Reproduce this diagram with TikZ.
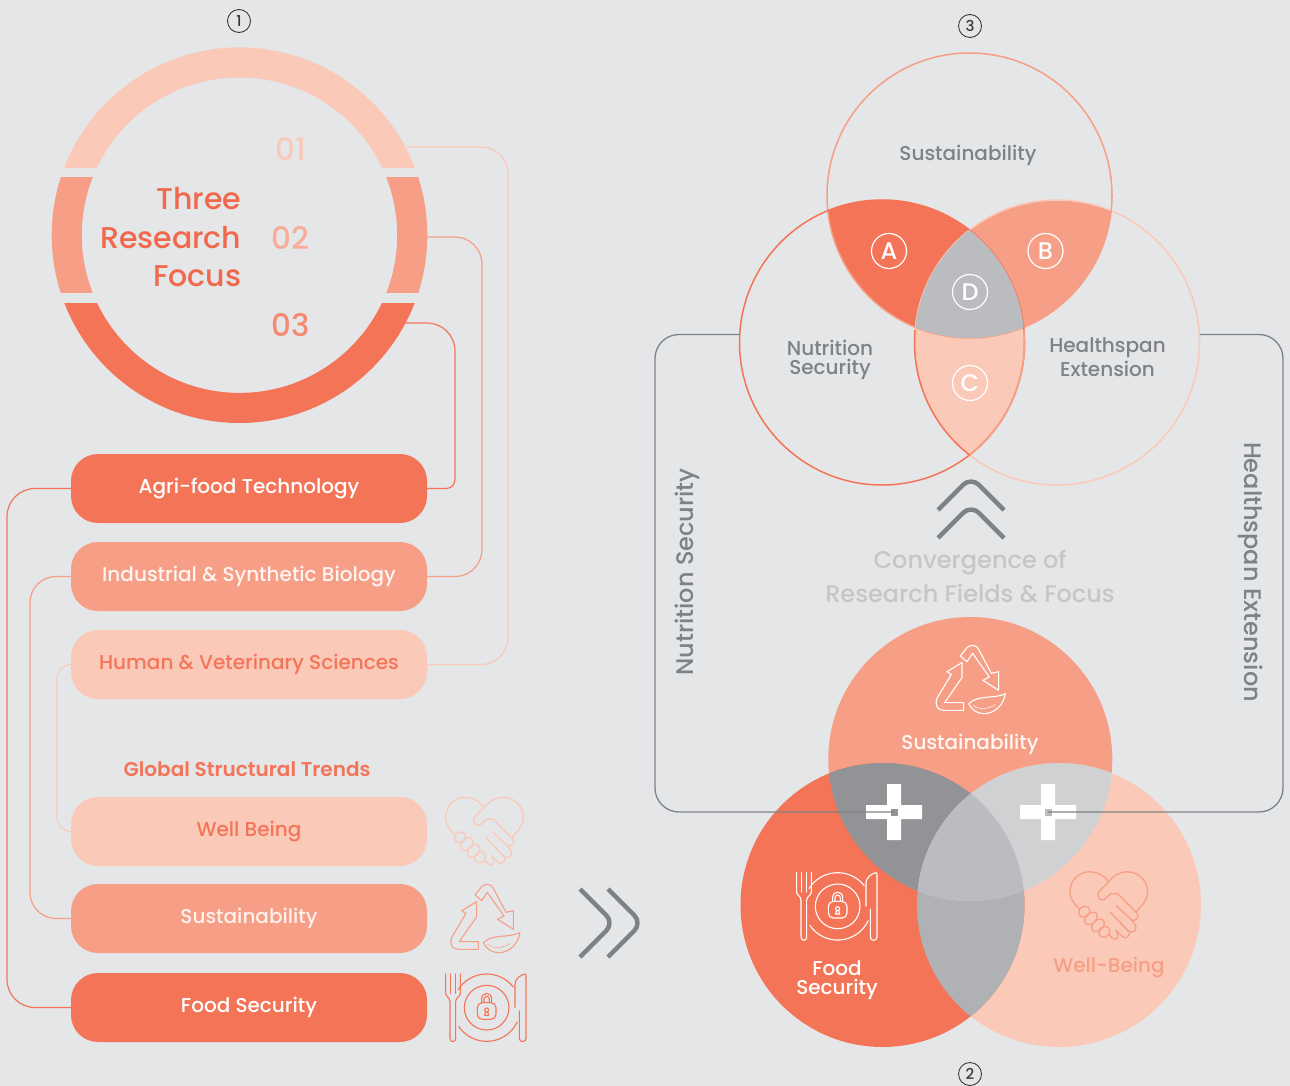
\documentclass[tikz,border=0pt]{standalone}
\usepackage{fontspec}
\setmainfont{Poppins}[UprightFont=* Medium,BoldFont=* SemiBold]
\usetikzlibrary{calc}
\definecolor{bgc}{HTML}{E5E6E8}
\definecolor{cora}{HTML}{F47458}
\definecolor{cormid}{HTML}{F79F86}
\definecolor{corlt}{HTML}{FBC9B8}
\definecolor{txtred}{HTML}{F2684C}
\definecolor{gry}{HTML}{7F8285}
\definecolor{gryd}{HTML}{929396}
\definecolor{grym}{HTML}{B0B1B4}
\definecolor{gryt}{HTML}{BBBCC0}
\definecolor{gryl}{HTML}{D0D1D3}
\definecolor{gryfade}{HTML}{C4C6C8}
\definecolor{num}{HTML}{3A3A3C}
\newcommand{\fs}[1]{\fontsize{#1}{#1}\selectfont}
\newcommand{\iconheart}[3]{%
\begin{scope}[shift={(#1,#2)},scale=1/3,draw=#3,line width=1.3pt,line cap=round,line join=round]
\draw (75,163) .. controls (55,145) and (47,130) .. (47,113) .. controls (47,75) and (75,52) .. (108,52) .. controls (130,52) and (150,65) .. (163,82);
\draw (133,113) -- (163,82) .. controls (176,65) and (196,52) .. (218,52) .. controls (252,52) and (280,78) .. (280,113) .. controls (280,135) and (265,152) .. (247,170);
\draw (133,113) .. controls (125,124) and (137,142) .. (150,135) -- (170,118) -- (190,118) -- (248,176) .. controls (258,190) and (240,205) .. (230,195) -- (187,155);
\draw (232,197) -- (243,212) .. controls (252,225) and (235,240) .. (222,230) -- (167,172);
\draw (198,207) -- (225,232) .. controls (228,245) and (215,255) .. (205,247) -- (185,228);
\draw (185,228) .. controls (198,245) and (188,262) .. (175,252) -- (163,240);
\draw[rotate around={45:(90,172)}] (90,172) ellipse[x radius=18pt,y radius=15pt];
\draw[rotate around={45:(110,192)}] (110,192) ellipse[x radius=22pt,y radius=15pt];
\draw[rotate around={45:(131,213)}] (131,213) ellipse[x radius=22pt,y radius=15pt];
\draw[rotate around={45:(150,232)}] (150,232) ellipse[x radius=18pt,y radius=15pt];
\end{scope}}
\newcommand{\iconrecycle}[3]{%
\begin{scope}[shift={(#1,#2)},scale=1/3,draw=#3,line width=1.1pt,line join=round]
\draw (135,345) -- (155,320) .. controls (165,310) and (182,310) .. (190,325) -- (228,397) -- (250,392) -- (250,448) -- (203,418) -- (222,408) -- (172,337) -- (155,362) -- cycle;
\draw (140,365) -- (95,392) -- (108,400) -- (65,472) .. controls (58,490) and (65,508) .. (85,508) -- (145,508) -- (145,485) -- (88,485) -- (140,410) -- cycle;
\draw (160,488) .. controls (190,460) and (235,475) .. (270,458) .. controls (265,490) and (240,518) .. (205,518) .. controls (185,518) and (168,505) .. (160,488) -- cycle;
\draw[line width=.5pt] (172,492) .. controls (190,508) and (220,505) .. (240,490);
\end{scope}}
\newcommand{\iconplate}[3]{%
\begin{scope}[shift={(#1,#2)},scale=1/3,draw=#3,line width=1.1pt,line join=round,line cap=round]
\draw (47,582) -- (47,640) .. controls (47,650) and (60,652) .. (60,665) -- (60,775) .. controls (60,788) and (77,788) .. (77,775) -- (77,665) .. controls (77,652) and (91,650) .. (91,640) -- (91,582);
\draw (62,582) -- (62,640) (76,582) -- (76,640);
\draw plot[smooth,domain=-148:-38,samples=30] ({170+101*cos(\x)},{683+101*sin(\x)});
\draw plot[smooth,domain=25:146,samples=30] ({170+101*cos(\x)},{683+101*sin(\x)});
\draw (170,683) circle[radius=67pt];
\draw[rounded corners=5pt] (142,668) rectangle (198,718);
\draw (155,668) -- (155,657) .. controls (155,635) and (185,635) .. (185,657) -- (185,668);
\draw (162,668) -- (162,658) .. controls (162,646) and (178,646) .. (178,658) -- (178,668);
\draw (170,690) circle[radius=6pt];
\draw (167,695) -- (164,706) -- (176,706) -- (173,695);
\draw (255,682) -- (255,612) .. controls (255,597) and (272,584) .. (285,582) .. controls (288,582) and (288,585) .. (288,590) -- (288,775) .. controls (288,788) and (268,788) .. (268,775) -- (268,692);
\end{scope}}
\tikzset{
 x=1pt,y=-1pt,
 pillbox/.style={rectangle,rounded corners=27pt,minimum width=356pt,minimum height=69pt,inner sep=0pt,font=\fs{20}},
 link/.style={line width=1.2pt},
 frameline/.style={draw=gry,line width=1.3pt},
 lettermark/.style={circle,draw=white,line width=1.2pt,minimum size=35pt,inner sep=0pt,text=white,font=\fs{24}},
 nummark/.style={circle,draw=num,line width=.9pt,minimum size=23pt,inner sep=0pt,text=num,font=\fs{15}},
 graytext/.style={text=gry,align=center,font=\fs{20}\linespread{1}},
 chevron/.style={draw=gry,line width=4.5pt,rounded corners=11pt},
}
\begin{document}
\begin{tikzpicture}
\useasboundingbox (0,0) rectangle (1290,1086);
\fill[bgc] (0,0) rectangle (1290,1086);
% ---- ring
\coordinate (ringc) at (239.5,235.2);
\begin{scope}\clip (0,0) rectangle (640,167.3);
\fill[corlt,even odd rule] (ringc) circle[radius=187.8pt] (ringc) circle[radius=157.7pt];\end{scope}
\begin{scope}\clip (0,177.7) rectangle (640,292.7);
\fill[cormid,even odd rule] (ringc) circle[radius=187.8pt] (ringc) circle[radius=157.7pt];\end{scope}
\begin{scope}\clip (0,303) rectangle (640,440);
\fill[cora,even odd rule] (ringc) circle[radius=187.8pt] (ringc) circle[radius=157.7pt];\end{scope}
\node[nummark] (n1) at (239,21) {1};
\node[anchor=east,text=txtred,font=\fs{30}] (t1) at (245,199) {Three};
\node[anchor=east,text=txtred,font=\fs{30}] (t2) at (245,238) {Research};
\node[anchor=east,text=txtred,font=\fs{30}] (t3) at (245,276) {Focus};
\node[text=corlt,font=\fs{31}] (f1) at (290.5,149) {01};
\node[text=cormid!85!white,font=\fs{31}] (f2) at (290.5,238) {02};
\node[text=cora!85!white,font=\fs{31}] (f3) at (290.5,325) {03};
% ---- pills
\node[pillbox,fill=cora,text=white] (p1) at (249,488.5) {Agri-food Technology};
\node[pillbox,fill=cormid,text=white!90!cormid] (p2) at (249,576.5) {Industrial \& Synthetic Biology};
\node[pillbox,fill=corlt,text=cora] (p3) at (249,664.5) {Human \& Veterinary Sciences};
\node[text=cora,font=\bfseries\fs{20}] (gst) at (247,769) {Global Structural Trends};
\node[pillbox,fill=corlt,text=cora] (p4) at (249,831.5) {Well Being};
\node[pillbox,fill=cormid,text=white!85!cormid] (p5) at (249,918.5) {Sustainability};
\node[pillbox,fill=cora,text=white] (p6) at (249,1007.5) {Food Security};
% ---- connectors left
\coordinate (s1) at (407,147);\coordinate (s2) at (427,237);\coordinate (s3) at (405,323);
\coordinate (b1) at (508,400);\coordinate (b2) at (482,400);\coordinate (b3) at (455,400);
\coordinate (b4) at (7,700);\coordinate (b5) at (30,700);\coordinate (b6) at (57,700);
\draw[link,draw=corlt,rounded corners=27pt] (s1) -| (b1) |- (p3.east);
\draw[link,draw=cormid,rounded corners=27pt] (s2) -| (b2) |- (p2.east);
\draw[link,draw=cora] (s3) [rounded corners=28pt] -| (b3) [rounded corners=9pt] |- (p1.east);
\draw[link,draw=cora,rounded corners=28pt] (p1.west) -| (b4) |- (p6.west);
\draw[link,draw=cormid,rounded corners=26pt] (p2.west) -| (b5) |- (p5.west);
\draw[link,draw=corlt,rounded corners=14pt] (p3.west) -| (b6) |- (p4.west);
% ---- icons left
\iconheart{430}{780}{corlt}
\iconrecycle{430}{780}{cormid}
\iconplate{430}{780}{cora}
% ---- right chevrons
\coordinate (ra) at (580,889);\coordinate (rb) at (614,923);\coordinate (rc) at (580,957);
\draw[chevron] (ra) -- (rb) -- (rc);
\draw[chevron] ($(ra)+(28,0)$) -- ($(rb)+(28,0)$) -- ($(rc)+(28,0)$);
% ---- top venn
\coordinate (tT) at (969.5,195.5);\coordinate (tL) at (882,342.5);\coordinate (tR) at (1057,342.5);
\def\VT{(tT) circle[radius=142.5pt]}
\def\VL{(tL) circle[radius=142.5pt]}
\def\VR{(tR) circle[radius=142.5pt]}
\begin{scope}\clip \VL;\fill[cora] \VT;\end{scope}
\begin{scope}\clip \VR;\fill[cormid] \VT;\end{scope}
\begin{scope}\clip \VL;\fill[corlt] \VR;\end{scope}
\begin{scope}\clip \VL;\clip \VR;\fill[gryt] \VT;\end{scope}
\draw[corlt,line width=1.5pt] \VR;
\draw[cormid,line width=1.5pt] \VT;
\draw[cora,line width=1.5pt] \VL;
\begin{scope}\clip (tL |- 300,330) rectangle (1100,460);\clip \VR;\draw[cormid,line width=1.5pt] \VL;\end{scope}
\begin{scope}\clip (800,330) rectangle (970,460);\clip \VL;\draw[cora,line width=1.5pt] \VR;\end{scope}
\begin{scope}\clip (880,170) rectangle (1100,340);\clip \VL;\clip \VR;\fill[gryt] \VT;\end{scope}
\node[nummark] (n3) at (970,26) {3};
\node[graytext] (lt1) at (968,155) {Sustainability};
\node[graytext] (lt2) at (830,348) {Nutrition};
\node[graytext] (lt2b) at (830,369) {Security};
\node[graytext] (lt3) at (1107.5,348) {Healthspan};
\node[graytext] (lt3b) at (1107.5,369) {Extension};
\node[lettermark] (la) at (889,251) {A};
\node[lettermark] (lb) at (1045.5,251) {B};
\node[lettermark] (ld) at (970,292) {D};
\node[lettermark] (lc) at (970,383) {C};
% ---- up chevrons
\coordinate (ua) at (938,510);\coordinate (ub) at (971,477);\coordinate (uc) at (1004,510);
\draw[chevron] (ua) -- (ub) -- (uc);
\draw[chevron] ($(ua)+(0,28)$) -- ($(ub)+(0,28)$) -- ($(uc)+(0,28)$);
\node[text=gryfade,font=\fs{24}] (cv1) at (970,562) {Convergence of};
\node[text=gryfade,font=\fs{24}] (cv2) at (970,593) {Research Fields \& Focus};
% ---- bottom venn
\coordinate (bT) at (970.3,759);\coordinate (bL) at (882.5,905);\coordinate (bR) at (1059,905);
\def\WT{(bT) circle[radius=142pt]}
\def\WL{(bL) circle[radius=142pt]}
\def\WR{(bR) circle[radius=142pt]}
\fill[cormid] \WT;\fill[corlt] \WR;\fill[cora] \WL;
\begin{scope}\clip \WL;\fill[gryd] \WT;\fill[grym] \WR;\end{scope}
\begin{scope}\clip \WR;\fill[gryl] \WT;\end{scope}
\begin{scope}\clip \WL;\clip \WR;\fill[gryt] \WT;\end{scope}
% crosses
\fill[white] (887,784) rectangle (901,840) (866,805) rectangle (922,819);
\fill[white] (1041,784) rectangle (1055,840) (1020,805) rectangle (1076,819);
\node[fill=gryd,minimum size=7pt,inner sep=0pt] (sqL) at (894,812) {};
\node[fill=gryt,minimum size=7pt,inner sep=0pt] (sqR) at (1048,812) {};
% frame
\coordinate (fL) at (739.5,334.5);\coordinate (fR) at (1200,334.5);
\coordinate (fbL) at (655,600);\coordinate (fbR) at (1283,600);
\draw[frameline,rounded corners=24pt] (fL) -| (fbL) |- (sqL.center);
\draw[frameline,rounded corners=24pt] (fR) -| (fbR) |- (sqR.center);
\node[rotate=90,text=gry,font=\fs{24}] (vl) at (687,572) {Nutrition Security};
\node[rotate=-90,text=gry,font=\fs{24}] (vr) at (1251,572) {Healthspan Extension};
% bottom venn content
\iconrecycle{915.3}{541}{white}
\iconplate{781}{678.7}{white}
\iconheart{1054.3}{854.4}{cormid}
\node[text=white!92!cormid,font=\fs{20}] (bt1) at (970,744) {Sustainability};
\node[text=white,font=\fs{20}] (bt2) at (837,968) {Food};
\node[text=white,font=\fs{20}] (bt2b) at (837,989) {Security};
\node[text=cormid,font=\fs{20}] (bt3) at (1109,968) {Well-Being};
\node[nummark] (n2) at (970,1074) {2};
\end{tikzpicture}
\end{document}
